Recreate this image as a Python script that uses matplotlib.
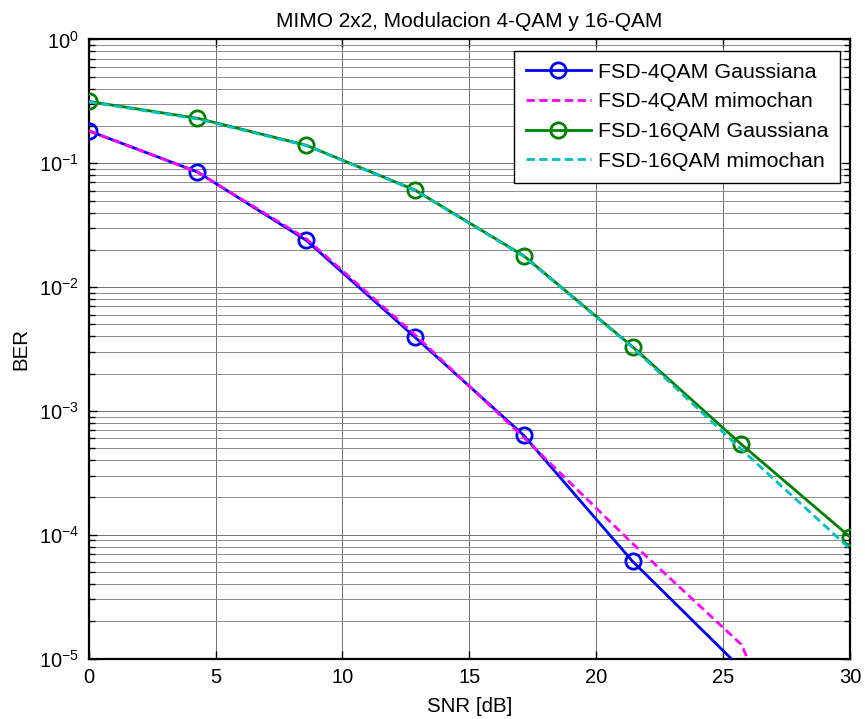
import numpy as np
import matplotlib
matplotlib.use("Agg")
import matplotlib.pyplot as plt
from matplotlib.ticker import FixedLocator, LogLocator, NullFormatter

plt.rcParams['font.family'] = ['Liberation Sans', 'DejaVu Sans']
plt.rcParams['mathtext.fontset'] = 'custom'
plt.rcParams['mathtext.rm'] = 'Liberation Sans'
plt.rcParams['mathtext.it'] = 'Liberation Sans'

# SNR points (dB)
snr = np.linspace(0, 30, 8)

# BER curves
ber_4qam_gauss = [0.183, 0.0851, 0.0239, 0.00394, 6.35e-4, 6.1e-5, 8.3e-6, 1.0e-6]
ber_4qam_mimo = [0.183, 0.0850, 0.0246, 0.00412, 6.1e-4, 8.5e-5, 1.3e-5, 1.4e-7]
ber_16qam_gauss = [0.316, 0.231, 0.140, 0.0608, 0.0179, 3.30e-3, 5.38e-4, 9.6e-5]
ber_16qam_mimo = [0.313, 0.228, 0.139, 0.0605, 0.0177, 3.26e-3, 4.9e-4, 7.7e-5]

labels = ['FSD-4QAM Gaussiana', 'FSD-4QAM mimochan',
          'FSD-16QAM Gaussiana', 'FSD-16QAM mimochan']
x_ticks = [0, 5, 10, 15, 20, 25, 30]
y_exponents = [0, -1, -2, -3, -4, -5]

fig = plt.figure(figsize=(8.65, 7.19), dpi=100)
ax = fig.add_axes([0.1025, 0.0841, 0.8802, 0.8610])

lw = 2.0
ax.plot(snr, ber_4qam_gauss, '-o', color='#0000ff', lw=lw, ms=11,
        mfc='none', mew=2.0, label=labels[0], zorder=3)
ax.plot(snr, ber_4qam_mimo, '--', color='#ff00ff', lw=lw,
        dashes=(3, 1.6), label=labels[1], zorder=4)
ax.plot(snr, ber_16qam_gauss, '-o', color='#008000', lw=lw, ms=11,
        mfc='none', mew=2.0, label=labels[2], zorder=3)
ax.plot(snr, ber_16qam_mimo, '--', color='#00bfbf', lw=lw,
        dashes=(3, 1.6), label=labels[3], zorder=4)

ax.set_yscale('log')
ax.set_xlim(0, 30)
ax.set_ylim(1e-5, 1)

ax.xaxis.set_major_locator(FixedLocator(x_ticks))
ax.set_xticklabels([str(t) for t in x_ticks])
ax.yaxis.set_major_locator(FixedLocator([10.0 ** e for e in y_exponents]))
ax.set_yticklabels([r'$\mathregular{10^{%d}}$' % e for e in y_exponents])
ax.yaxis.set_minor_locator(LogLocator(base=10, subs=np.arange(2, 10), numticks=20))
ax.yaxis.set_minor_formatter(NullFormatter())

ax.tick_params(which='both', direction='in', top=True, right=True,
               labelsize=14.5, colors='black')
ax.tick_params(which='major', length=6, width=1.0, pad=7)
ax.tick_params(which='minor', length=4, width=1.0)

ax.grid(True, which='major', axis='both', color='#707070', lw=0.7)
ax.grid(True, which='minor', axis='y', color='#8a8a8a', lw=0.7)
ax.set_axisbelow(True)
for s in ax.spines.values():
    s.set_linewidth(1.6)
    s.set_color('black')

ax.set_title('MIMO 2x2, Modulacion 4-QAM y 16-QAM', fontsize=15, pad=9)
ax.set_xlabel('SNR [dB]', fontsize=14.8, labelpad=7)
ax.set_ylabel('BER', fontsize=14.8, labelpad=6)

leg = ax.legend(loc='upper right', bbox_to_anchor=(0.9869, 0.9814),
                borderaxespad=0, fontsize=15.4, frameon=True, fancybox=False,
                edgecolor='black', framealpha=1, numpoints=1,
                handlelength=3.05, handletextpad=0.33, labelspacing=0.5,
                borderpad=0.55)
leg.get_frame().set_linewidth(1.0)
leg.set_zorder(10)

fig.savefig('out.png', dpi=100)
